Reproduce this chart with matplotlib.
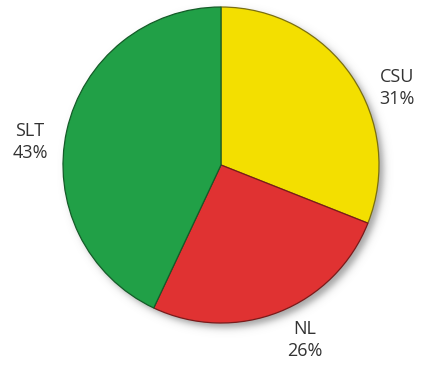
import numpy as np
import matplotlib
matplotlib.use("Agg")
import matplotlib.pyplot as plt

# Share of each group
labels = ["CSU", "NL", "SLT"]
shares = [31, 26, 43]
colors = ["#f3df00", "#e03232", "#21a047"]
edge_colors = ["#7a6f10", "#7a1a1a", "#145c28"]

W, H = 422, 371
fig = plt.figure(figsize=(W / 100, H / 100), dpi=100)
ax = fig.add_axes([0, 0, 1, 1])
ax.set_xlim(0, W)
ax.set_ylim(0, H)
ax.set_aspect("equal")
ax.axis("off")

cx, cy, r = 221, H - 165, 158

# Soft drop shadow under the pie
yy, xx = np.mgrid[0:H, 0:W]
sx, sy = cx + 4, cy - 5
d = np.hypot(xx - sx, (H - 1 - yy) - sy)
alpha = 0.55 / (1 + np.exp((d - r) / 2.2))
shadow = np.zeros((H, W, 4))
shadow[..., :3] = 0.35
shadow[..., 3] = alpha
ax.imshow(shadow, extent=(0, W, 0, H), origin="upper", zorder=0)

wedges, _ = ax.pie(shares, colors=colors, startangle=90, counterclock=False,
                   center=(cx, cy), radius=r, frame=True,
                   wedgeprops=dict(linewidth=0.9))
for w, ec in zip(wedges, edge_colors):
    w.set_edgecolor(ec)
    w.set_zorder(2)
ax.set_xlim(0, W)
ax.set_ylim(0, H)
ax.axis("off")

# Labels placed outside the pie
label_pos = {"CSU": (397, 88), "NL": (305, 340), "SLT": (30, 142)}
for lab, val in zip(labels, shares):
    px, py = label_pos[lab]
    ax.text(px, H - py, f"{lab}\n{val}%", ha="center", va="center",
            fontsize=13, color="#333333", linespacing=1.25,
            family=["Open Sans", "DejaVu Sans"], zorder=3)

fig.savefig("out.png", dpi=100, facecolor="white")
